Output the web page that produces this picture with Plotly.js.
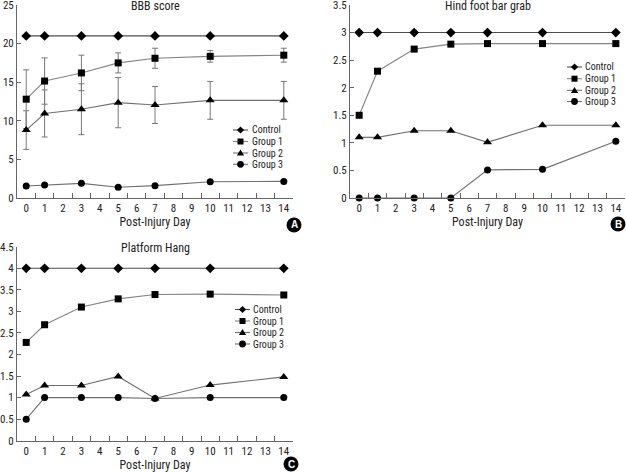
<!DOCTYPE html>
<html>
<head>
<meta charset="utf-8">
<script src="https://cdn.plot.ly/plotly-3.0.1.min.js"></script>
<style>html,body{margin:0;padding:0;background:#fff;}#chart{width:626px;height:472px;}</style>
</head>
<body>
<div id="chart"></div>
<script>
// ---- Data ----
const days = [0, 1, 3, 5, 7, 10, 14];
const allDays = [0,1,2,3,4,5,6,7,8,9,10,11,12,13,14];
const seriesNames = ['Control', 'Group 1', 'Group 2', 'Group 3'];

// Panel A: BBB score
const bbbControl = [21, 21, 21, 21, 21, 21, 21];
const bbbGroup1  = [12.8, 15.15, 16.2, 17.5, 18.1, 18.35, 18.5];
const bbbGroup1Sd = [3.8, 3.0, 2.3, 1.3, 1.3, 0.75, 0.9];
const bbbGroup2  = [8.8, 10.95, 11.5, 12.35, 12.05, 12.65, 12.65];
const bbbGroup2Sd = [2.5, 3.05, 3.3, 3.25, 2.4, 2.45, 2.45];
const bbbGroup3  = [1.55, 1.7, 1.9, 1.4, 1.6, 2.1, 2.15];

// Panel B: Hind foot bar grab
const hindControl = [3, 3, 3, 3, 3, 3, 3];
const hindGroup1  = [1.5, 2.3, 2.7, 2.79, 2.8, 2.8, 2.8];
const hindGroup2  = [1.1, 1.1, 1.22, 1.22, 1.01, 1.32, 1.32];
const hindGroup3  = [0, 0, 0, 0, 0.51, 0.52, 1.03];

// Panel C: Platform Hang
const hangControl = [4, 4, 4, 4, 4, 4, 4];
const hangGroup1  = [2.28, 2.69, 3.1, 3.29, 3.39, 3.4, 3.38];
const hangGroup2  = [1.07, 1.28, 1.28, 1.49, 0.98, 1.29, 1.48];
const hangGroup3  = [0.5, 1.0, 1.0, 1.0, 0.98, 1.0, 1.0];

const panelTitles = ['BBB score', 'Hind foot bar grab', 'Platform Hang'];
const panelLetters = ['A', 'B', 'C'];
const xTitle = 'Post-Injury Day';

// ---- Styles ----
const FONT = 'Roboto Condensed, Liberation Sans, Arial, sans-serif';
const TXT = '#222';
const LINECOLORS = ['#4d4d4d', '#858585', '#707070', '#707070'];
const symbols = ['diamond', 'square', 'triangle-up', 'circle'];
const sizes = [7.5, 7, 8, 7];
const symbolPaths = [
  'M0,3.6 L3.6,0 L0,-3.6 L-3.6,0 Z',
  'M-3,-3 L3,-3 L3,3 L-3,3 Z',
  'M0,3.4 L3.6,-2.6 L-3.6,-2.6 Z',
  null
];
const xCats = allDays.map(String);
const xs = days.map(String);
const W = 626, H = 472;
const PX = v => v / W, PY = v => 1 - v / H;

function mk(y, i, xa, ya, sd) {
  const t = {
    type: 'scatter', mode: 'lines+markers', x: xs, y: y,
    name: seriesNames[i], xaxis: xa, yaxis: ya, showlegend: false,
    line: {color: LINECOLORS[i], width: 1.1},
    marker: {symbol: symbols[i], size: sizes[i], color: '#000'},
    cliponaxis: false
  };
  if (sd) t.error_y = {type: 'data', array: sd, visible: true, color: '#777', thickness: 1, width: 3};
  return t;
}

const data = [
  mk(bbbControl, 0, 'x', 'y'),
  mk(bbbGroup1, 1, 'x', 'y', bbbGroup1Sd),
  mk(bbbGroup2, 2, 'x', 'y', bbbGroup2Sd),
  mk(bbbGroup3, 3, 'x', 'y'),
  mk(hindControl, 0, 'x2', 'y2'),
  mk(hindGroup1, 1, 'x2', 'y2'),
  mk(hindGroup2, 2, 'x2', 'y2'),
  mk(hindGroup3, 3, 'x2', 'y2'),
  mk(hangControl, 0, 'x3', 'y3'),
  mk(hangGroup1, 1, 'x3', 'y3'),
  mk(hangGroup2, 2, 'x3', 'y3'),
  mk(hangGroup3, 3, 'x3', 'y3')
];

function xax(l, r, anchor) {
  return {
    domain: [l / W, r / W], anchor: anchor, type: 'category',
    categoryorder: 'array', categoryarray: xCats, tickvals: xCats, range: [-0.5, 14.5],
    tickson: 'boundaries', ticks: 'inside', ticklen: 5, tickcolor: '#666', tickangle: 0,
    showline: true, linecolor: '#666', linewidth: 1, showgrid: false, zeroline: false,
    tickfont: {family: FONT, size: 11, color: TXT},
    title: {text: xTitle, font: {family: FONT, size: 12, color: TXT}, standoff: 2},
    fixedrange: true
  };
}
function yax(top, bot, anchor, maxv, dt) {
  return {
    domain: [1 - bot / H, 1 - top / H], anchor: anchor, range: [0, maxv], dtick: dt,
    ticks: 'inside', ticklen: 4, tickcolor: '#666', ticklabeloverflow: 'allow',
    showline: true, linecolor: '#666', linewidth: 1, showgrid: false, zeroline: false,
    tickfont: {family: FONT, size: 11, color: TXT}, fixedrange: true
  };
}

const panels = [
  {cx: 155, top: 6, bx: 294, by: 225,
   leg: {l0: 233, l1: 248, m: 240.5, t: 251, rows: [130, 141.5, 153, 164.3]}},
  {cx: 487.5, top: 6, bx: 618, by: 224,
   leg: {l0: 567, l1: 582, m: 574.5, t: 584, rows: [67, 78.7, 90.3, 101.5]}},
  {cx: 155, top: 248, bx: 291, by: 464,
   leg: {l0: 235, l1: 250, m: 242.5, t: 252, rows: [309.5, 321, 332.5, 344]}}
];

const annotations = [], shapes = [];
panels.forEach((p, i) => {
  annotations.push({xref: 'paper', yref: 'paper', x: PX(p.cx), y: PY(p.top),
    xanchor: 'center', yanchor: 'middle', text: panelTitles[i], showarrow: false,
    font: {family: FONT, size: 12, color: TXT}});
  shapes.push({type: 'circle', xref: 'paper', yref: 'paper', xsizemode: 'pixel', ysizemode: 'pixel',
    xanchor: PX(p.bx), yanchor: PY(p.by), x0: -7.5, x1: 7.5, y0: -7.5, y1: 7.5,
    fillcolor: '#000', line: {width: 0}});
  annotations.push({xref: 'paper', yref: 'paper', x: PX(p.bx), y: PY(p.by),
    xanchor: 'center', yanchor: 'middle', text: '<b>' + panelLetters[i] + '</b>', showarrow: false,
    font: {family: 'Liberation Sans, Arial, sans-serif', size: 10, color: '#fff'}});
  // legend
  const L = p.leg;
  seriesNames.forEach((nm, k) => {
    const yy = PY(L.rows[k]);
    shapes.push({type: 'line', xref: 'paper', yref: 'paper', x0: PX(L.l0), x1: PX(L.l1), y0: yy, y1: yy,
      line: {color: LINECOLORS[k], width: 1.1}});
    if (symbolPaths[k]) {
      shapes.push({type: 'path', xref: 'paper', yref: 'paper', xsizemode: 'pixel', ysizemode: 'pixel',
        xanchor: PX(L.m), yanchor: yy, path: symbolPaths[k], fillcolor: '#000', line: {width: 0}});
    } else {
      shapes.push({type: 'circle', xref: 'paper', yref: 'paper', xsizemode: 'pixel', ysizemode: 'pixel',
        xanchor: PX(L.m), yanchor: yy, x0: -3.4, x1: 3.4, y0: -3.4, y1: 3.4, fillcolor: '#000', line: {width: 0}});
    }
    annotations.push({xref: 'paper', yref: 'paper', x: PX(L.t), y: yy, xanchor: 'left', yanchor: 'middle',
      text: nm, showarrow: false, borderpad: 0, font: {family: FONT, size: 10, color: TXT}});
  });
});

const layout = {
  width: W, height: H, margin: {l: 0, r: 0, t: 0, b: 0},
  paper_bgcolor: '#fff', plot_bgcolor: '#fff', showlegend: false,
  xaxis: xax(17, 293, 'y'), yaxis: yax(5, 198, 'x', 25, 5),
  xaxis2: xax(350, 625, 'y2'), yaxis2: yax(5, 198, 'x2', 3.5, 0.5),
  xaxis3: xax(17, 293, 'y3'), yaxis3: yax(246.7, 440.7, 'x3', 4.5, 0.5),
  annotations: annotations, shapes: shapes
};

Plotly.newPlot('chart', data, layout, {staticPlot: true, displayModeBar: false});
</script>
</body>
</html>
